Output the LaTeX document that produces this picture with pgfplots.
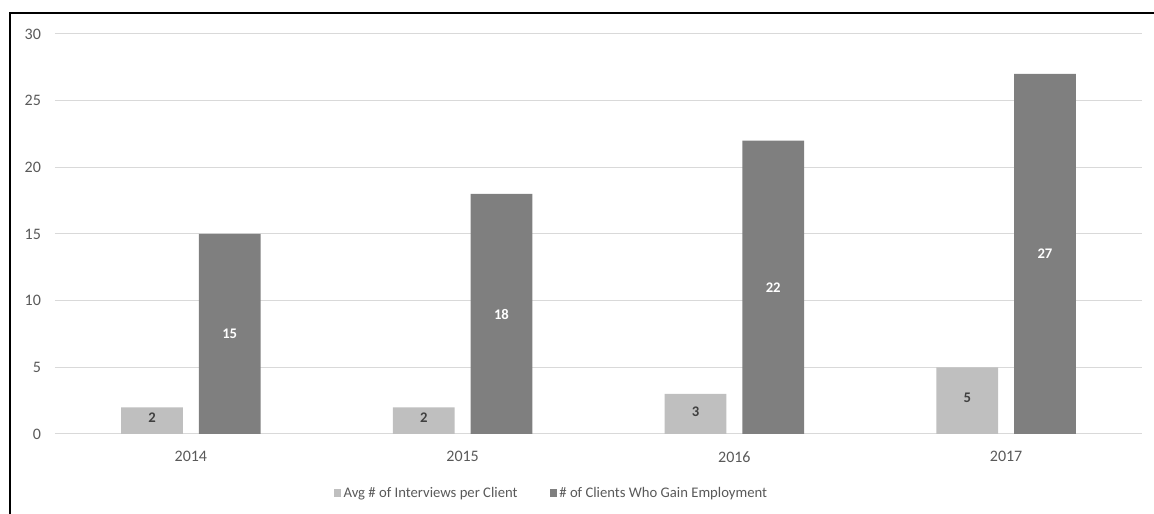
\documentclass[border=0pt]{standalone}
\usepackage{fontspec}
\setmainfont{Carlito}
\usepackage{pgfplots}
\pgfplotsset{compat=1.18}
\definecolor{lightbar}{HTML}{BFBFBF}
\definecolor{darkbar}{HTML}{7F7F7F}
\definecolor{ticktext}{HTML}{595959}
\definecolor{gridc}{HTML}{D9D9D9}
\definecolor{labeldark}{HTML}{404040}
\begin{document}
\begin{tikzpicture}
\path[use as bounding box] (-41.25pt,-60pt) rectangle (824.25pt,325.5pt);
\begin{axis}[
  at={(0pt,0pt)}, anchor=south west,
  scale only axis, width=815.25pt, height=300pt,
  /pgf/number format/assume math mode=true,
  ymin=0, ymax=30, ytick={0,5,...,30},
  xmin=-0.5, xmax=3.5, xtick={0,1,2,3}, xticklabels={2014,2015,2016,2017},
  ymajorgrids, grid style={gridc, line width=0.75pt},
  axis lines=left, axis line style={draw=none},
  major tick length=0pt,
  tick label style={font=\fontsize{12}{14}\selectfont, text=ticktext},
  yticklabel style={xshift=-7pt},
  xticklabel style={yshift=-9.5pt},
  clip=false,
  legend style={at={(0.457,-0.1475)}, anchor=center, draw=none, fill=none,
    legend columns=2, font=\fontsize{11}{13}\selectfont, text=ticktext,
    /tikz/every even column/.append style={column sep=22pt}},
  legend image code/.code={\fill[#1] (0pt,-2.7pt) rectangle (5.4pt,2.7pt);},
]
\addplot[ybar, bar width=0.227, bar shift=-0.143, fill=lightbar, draw=none,
  nodes near coords,
  visualization depends on={rawy \as \rawy},
  nodes near coords style={anchor=center, xshift=-29.15pt, yshift={-\rawy*5pt+2pt}, font=\bfseries\fontsize{11}{13}\selectfont, text=labeldark}]
  coordinates {(0,2) (1,2) (2,3) (3,5)};
\addlegendentry{Avg \# of Interviews per Client}
\addplot[ybar, bar width=0.227, bar shift=0.143, fill=darkbar, draw=none,
  nodes near coords,
  visualization depends on={rawy \as \rawy},
  nodes near coords style={anchor=center, xshift=29.15pt, yshift={-\rawy*5pt}, font=\bfseries\fontsize{11}{13}\selectfont, text=white}]
  coordinates {(0,15) (1,18) (2,22) (3,27)};
\addlegendentry{\# of Clients Who Gain Employment}
\end{axis}
\draw[line width=1.5pt] (-33.75pt,-61pt) -- (-33.75pt,316.1pt) -- (826pt,316.1pt);
\end{tikzpicture}
\end{document}
